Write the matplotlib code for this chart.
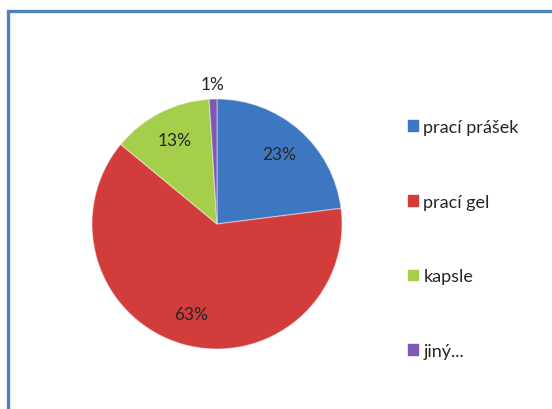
import matplotlib
matplotlib.use("Agg")
import matplotlib.pyplot as plt
from matplotlib.patches import Rectangle, Patch
import numpy as np

categories = ["prací prášek", "prací gel", "kapsle", "jiný..."]
values = [23, 63, 13, 1]
colors = ["#3d77c2", "#d23d3b", "#a5cf4b", "#7d58b5"]

plt.rcParams['font.family'] = ['Lato', 'DejaVu Sans']

W, H = 552, 410
fig = plt.figure(figsize=(W / 100, H / 100), dpi=100)
fig.patch.set_facecolor("white")

# outer frame (chart area border)
frame = Rectangle((8 / W, -0.1), 1.2, 1 - 12 / H + 0.1, transform=fig.transFigure,
                  fill=False, edgecolor="#4f81bd", linewidth=2.4, zorder=0)
fig.patches.append(frame)

cx, cy, r = 217, 225, 125
ax = fig.add_axes([(cx - r) / W, (H - cy - r) / H, 2 * r / W, 2 * r / H])
wedges, texts, autotexts = ax.pie(values, colors=colors, startangle=90, counterclock=False,
                                  autopct=lambda p: f"{p:.0f}%", pctdistance=0.75,
                                  radius=1.0,
                                  wedgeprops=dict(edgecolor=(1, 1, 1, 0.4), linewidth=0.9),
                                  textprops=dict(fontsize=12.5, color="#262626"))
for w, t in zip(wedges, autotexts):
    frac = abs(w.theta2 - w.theta1) / 360
    if frac < 0.03:
        ang = np.deg2rad((w.theta1 + w.theta2) / 2)
        t.set_position((1.12 * np.cos(ang), 1.12 * np.sin(ang)))
ax.set_xlim(-1, 1)
ax.set_ylim(-1, 1)
ax.set_aspect("equal")
ax.axis("off")

handles = [Patch(facecolor=c, edgecolor=c) for c in colors]
leg = fig.legend(handles, categories, loc="center left",
                 bbox_to_anchor=(408 / W, 1 - 240 / H), frameon=False,
                 fontsize=13, labelspacing=3.25, handlelength=0.55, handleheight=0.55,
                 handletextpad=0.3, borderaxespad=0, borderpad=0)
for t in leg.get_texts():
    t.set_color("#262626")

fig.savefig("out.png", dpi=100, facecolor="white")
